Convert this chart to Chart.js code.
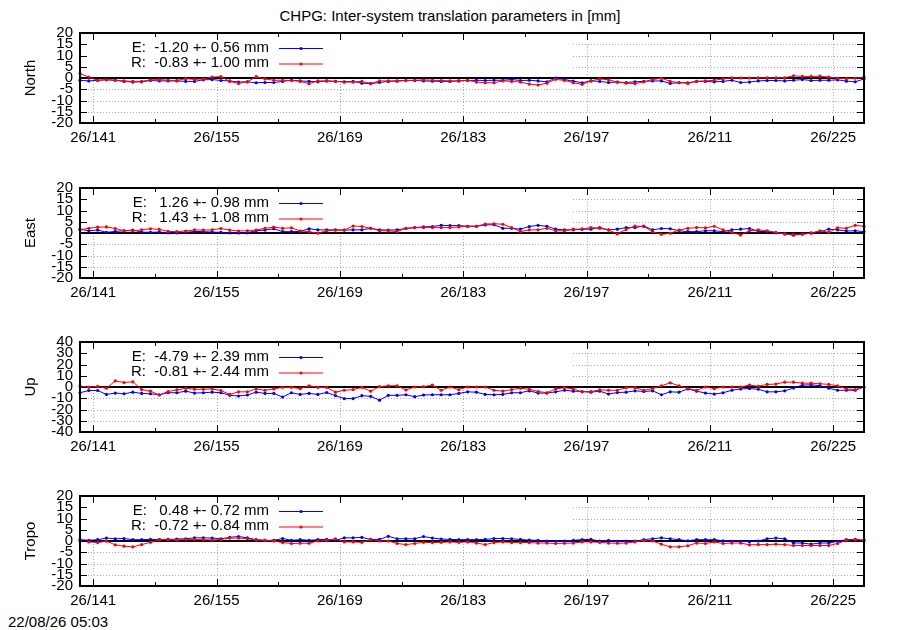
<!DOCTYPE html>
<html>
<head>
<meta charset="utf-8">
<title>CHPG inter-system translation parameters</title>
<script src="https://cdn.jsdelivr.net/npm/chart.js@4.4.1/dist/chart.umd.min.js"></script>
<style>
    body { margin: 0; background: #fff; width: 900px; height: 630px; position: relative; overflow: hidden;
           font-family: 'Liberation Sans', Arial, sans-serif; color: #000; }
    #title { position: absolute; top: 8px; left: 0; width: 900px; text-align: center; font-size: 15px; line-height: 15px; }
    #stamp { position: absolute; left: 8px; top: 614px; font-size: 15px; line-height: 15px; }
    .panel { position: absolute; left: 0; width: 900px; height: 132px; }
</style>
</head>
<body>
<div id="title">CHPG: Inter-system translation parameters in [mm]</div>
<canvas class="panel" id="p0" width="900" height="132" style="top:17px"></canvas>
<canvas class="panel" id="p1" width="900" height="132" style="top:172px"></canvas>
<canvas class="panel" id="p2" width="900" height="132" style="top:326px"></canvas>
<canvas class="panel" id="p3" width="900" height="132" style="top:480px"></canvas>
<div id="stamp">22/08/26 05:03</div>

<script>
// Data (day of year 2026, daily solutions at 12:00)
const days = [139,140,141,142,143,144,145,146,147,148,149,150,151,152,153,154,155,156,157,158,
    159,160,161,162,163,164,165,166,167,168,169,170,171,172,173,174,175,176,177,178,
    179,180,181,182,183,184,185,186,187,188,189,190,191,192,193,194,195,196,197,198,
    199,200,201,202,203,204,205,206,207,208,209,210,211,212,213,214,215,216,217,218,
    219,220,221,222,223,224,225,226,227,228];

const xTickDays = [141,148,155,162,169,176,183,190,197,204,211,218,225];
const xLabelDays = [141,155,169,183,197,211,225];

const panelNames = ['North', 'East', 'Up', 'Tropo'];
const yLimits = [20, 20, 40, 20];
const ySteps = [5, 5, 10, 5];

const meanE = [-1.20, 1.26, -4.79, 0.48];
const sigE  = [0.56, 0.98, 2.39, 0.72];
const meanR = [-0.83, 1.43, -0.81, -0.72];
const sigR  = [1.00, 1.08, 2.44, 0.84];

const northE = [-1.0,-1.3,-1.0,-0.8,-1.0,-1.5,-1.8,-1.7,-1.1,-1.3,
    -1.3,-1.3,-1.5,-1.5,-0.8,-0.7,-1.1,-1.3,-1.8,-1.7,
    -2.1,-2.0,-2.0,-1.5,-1.0,-1.3,-1.5,-1.7,-1.3,-1.5,
    -1.7,-1.5,-2.3,-2.5,-2.0,-1.5,-1.3,-1.1,-1.1,-1.3,
    -1.4,-1.5,-1.5,-1.3,-1.1,-1.0,-1.1,-1.0,-1.0,-0.7,
    -1.1,-1.0,-1.3,-1.7,0.0,-0.7,-1.4,-2.1,-1.3,-1.5,
    -2.0,-1.8,-2.0,-1.7,-1.5,-1.3,-1.3,-2.4,-2.1,-2.1,
    -1.5,-1.5,-1.7,-1.5,-1.0,-2.0,-1.8,-1.3,-1.1,-1.1,
    -1.3,-1.0,-0.7,-1.1,-1.0,-1.0,-0.8,-1.4,-1.7,-0.4];
const northR = [2.0,0.4,-1.1,-0.7,-1.0,-1.3,-1.5,-1.5,-0.8,-0.7,
    -1.0,-1.1,-0.3,-0.6,-0.4,0.4,0.6,-1.5,-2.4,-1.7,
    0.6,-0.4,-1.0,-1.0,-1.1,-1.5,-2.5,-1.3,-1.3,-1.5,
    -1.8,-1.8,-1.5,-2.4,-1.3,-1.3,-1.4,-1.1,-1.0,-0.8,
    -1.0,-1.1,-1.3,-1.3,-1.0,-1.8,-2.1,-2.1,-1.3,-1.5,
    -1.8,-2.7,-3.1,-2.3,-0.6,-1.1,-2.1,-2.8,-1.3,-0.4,
    -0.8,-1.8,-2.3,-2.5,-1.7,-0.7,-0.1,-1.5,-2.0,-2.4,
    -1.5,-1.3,-1.0,-0.4,0.1,0.0,0.0,0.1,0.1,0.1,
    0.1,1.0,0.7,0.7,0.8,0.4,-0.1,-0.3,-0.1,0.4];

const eastE = [1.7,1.0,1.3,0.3,0.7,1.0,1.3,0.4,0.3,0.4,
    0.1,0.1,0.3,0.7,0.6,0.4,0.3,0.1,0.0,0.1,
    1.0,1.3,1.9,0.6,0.6,0.7,1.9,1.4,1.4,1.4,
    1.3,1.4,1.4,2.1,1.4,1.3,1.4,2.0,2.4,2.7,
    2.9,3.4,3.3,3.3,3.0,3.0,3.6,3.7,2.1,2.1,
    1.7,2.9,3.4,3.0,1.7,1.4,1.4,1.7,1.7,2.4,
    1.4,1.7,2.4,2.4,3.1,1.4,2.0,1.9,1.0,0.6,
    0.6,1.0,1.0,0.6,1.4,1.7,2.0,0.7,0.6,0.1,
    -0.4,-1.0,-0.4,0.1,0.6,1.7,1.4,0.9,1.0,0.6];
const eastR = [1.4,2.1,2.6,2.7,2.0,1.0,1.0,1.4,1.9,1.6,
    0.7,0.6,0.9,1.4,1.3,1.4,2.0,1.3,0.9,1.0,
    1.3,2.1,2.6,2.1,2.3,0.9,0.6,-0.1,1.0,1.3,
    1.3,3.1,2.9,2.1,1.0,1.0,0.6,2.1,2.4,2.4,
    2.4,2.4,2.4,2.7,3.0,3.0,4.0,4.1,3.9,2.4,
    0.6,1.4,1.4,2.1,1.0,1.0,1.7,1.7,2.4,2.1,
    1.3,-0.4,1.6,3.1,2.9,0.6,-0.6,-0.1,1.3,2.1,
    2.4,2.3,3.0,1.4,0.3,-0.9,1.0,1.4,1.0,0.3,
    -0.4,-0.7,-0.6,-0.1,1.0,0.3,2.3,2.1,3.4,3.0];

const upE = [-5.1,-3.1,-3.1,-6.6,-5.4,-6.0,-4.6,-5.7,-6.0,-6.9,
    -5.1,-5.1,-3.7,-5.4,-5.1,-4.6,-5.1,-7.4,-8.0,-7.1,
    -4.6,-5.7,-5.7,-8.9,-5.1,-6.6,-5.7,-6.6,-4.9,-7.7,
    -10.3,-10.3,-7.7,-8.3,-11.7,-7.4,-7.4,-6.9,-8.6,-7.1,
    -6.9,-6.9,-6.9,-5.7,-4.3,-4.6,-6.6,-6.9,-6.6,-5.1,
    -5.1,-3.4,-5.4,-5.4,-4.3,-2.9,-3.7,-4.0,-4.6,-3.7,
    -6.3,-4.9,-4.6,-3.4,-4.0,-3.4,-6.9,-4.3,-4.6,-1.7,
    -3.7,-5.4,-6.3,-5.1,-2.9,-1.7,-1.4,-2.0,-4.3,-4.3,
    -3.4,-0.9,1.7,2.0,1.1,-1.1,-2.9,-2.9,-2.9,0.0];
const upR = [0.9,-0.3,0.6,-1.1,5.4,4.0,4.6,-2.3,-3.7,-7.1,
    -4.0,-2.6,-1.1,-2.0,-2.0,-1.7,-3.1,-6.6,-4.3,-4.3,
    -1.7,-2.9,-1.7,-0.3,-0.3,-1.4,1.1,-0.3,-0.3,-4.6,
    -2.9,-2.3,-0.3,-3.7,0.3,1.1,1.1,-2.6,0.0,0.3,
    1.7,-2.9,0.0,-2.3,0.0,0.0,0.0,-2.9,-3.7,-2.3,
    -1.1,-2.0,-4.0,-5.1,-1.7,-0.6,-1.7,-4.3,-4.0,-2.6,
    -2.9,-2.9,-0.6,-0.6,-2.9,-1.4,1.1,3.7,1.1,-1.4,
    -2.9,0.0,-1.4,0.0,0.0,0.0,1.7,0.6,2.3,2.6,
    4.3,4.3,3.4,3.4,2.9,2.3,1.1,-1.7,-2.3,0.0];

const tropoE = [0.6,0.3,0.6,1.3,1.0,1.1,0.6,0.6,0.7,0.7,
    0.7,0.9,1.0,1.4,1.4,1.3,1.0,1.6,2.0,1.4,
    0.6,0.3,0.3,1.1,0.3,0.6,0.3,0.6,0.7,0.3,
    1.4,1.4,1.6,0.7,0.7,2.1,1.0,1.0,1.0,2.0,
    1.3,0.9,0.7,0.6,0.6,0.6,0.7,1.1,1.1,1.0,
    0.7,0.4,0.3,0.0,-0.1,0.0,0.3,0.6,0.7,0.0,
    0.3,-0.1,0.0,0.0,0.6,1.0,1.4,1.0,0.6,0.1,
    0.6,0.6,0.6,0.1,-0.1,-0.1,-0.3,0.0,1.0,1.3,
    1.0,-0.9,-0.9,-1.4,-0.9,-0.9,-0.1,0.6,0.7,0.3];
const tropoR = [0.0,-0.4,-0.7,-0.1,-1.7,-2.3,-2.6,-1.6,-0.6,0.6,
    0.6,0.4,0.7,0.7,0.6,0.4,0.7,1.3,1.3,1.0,
    0.4,0.3,0.0,-0.7,-1.1,-1.0,-1.0,0.0,0.3,1.0,
    -0.4,-0.4,-0.6,0.6,0.0,0.0,-1.1,-1.6,-1.1,-0.6,
    -0.7,-0.6,-0.4,-0.6,-0.4,-0.9,-1.6,-0.7,-0.4,-0.7,
    -0.7,-0.7,-0.9,-0.9,-1.1,-1.0,-0.9,-0.4,-0.4,-0.6,
    -0.9,-1.0,-0.9,-0.4,0.3,0.0,-1.4,-2.6,-2.6,-2.1,
    -0.9,-1.1,-0.4,-1.1,-0.9,-0.9,-1.7,-1.6,-1.6,-1.4,
    -1.6,-2.0,-2.0,-2.0,-2.0,-2.0,-1.1,0.3,0.7,0.3];

const seriesE = [northE, eastE, upE, tropoE];
const seriesR = [northR, eastR, upR, tropoR];

// Styling
const FONT = "'Liberation Sans', Arial, sans-serif";
const BLUE = '#0000ff';
const RED = '#ff0000';
const KEY_RIGHT = 573;   // opaque key box hides the upper-left grid

// gnuplot-like frame: dotted grid, zero line, inner tick marks, border, key
const gnuFrame = {
    id: 'gnuFrame',
    beforeDatasetsDraw(chart, args, opts) {
        const { ctx, chartArea: a, scales: { x, y } } = chart;
        const lim = opts.lim, step = opts.step;
        ctx.save();
        ctx.strokeStyle = '#a8a8a8';
        ctx.lineWidth = 1;
        ctx.setLineDash([1, 2]);
        for (let v = -lim + step; v < lim; v += step) {
            if (v === 0) continue;
            const py = Math.round(y.getPixelForValue(v)) + 0.5;
            ctx.beginPath();
            ctx.moveTo(v > 0 ? KEY_RIGHT : a.left + 8, py);
            ctx.lineTo(a.right - 7, py);
            ctx.stroke();
        }
        xLabelDays.forEach(d => {
            const px = Math.round(x.getPixelForValue(d)) + 0.5;
            const yTop = px < KEY_RIGHT ? y.getPixelForValue(0) : y.getPixelForValue(lim - step);
            ctx.beginPath();
            ctx.moveTo(px, yTop);
            ctx.lineTo(px, y.getPixelForValue(-lim + step));
            ctx.stroke();
        });
        ctx.setLineDash([]);
        ctx.strokeStyle = '#000';
        ctx.lineWidth = 2;
        const y0 = y.getPixelForValue(0);
        ctx.beginPath();
        ctx.moveTo(a.left, y0);
        ctx.lineTo(a.right, y0);
        ctx.stroke();
        ctx.restore();
    },
    afterDatasetsDraw(chart, args, opts) {
        const { ctx, chartArea: a, scales: { x, y } } = chart;
        ctx.save();
        ctx.strokeStyle = '#000';
        ctx.lineWidth = 1;
        ctx.beginPath();
        for (let v = -opts.lim; v <= opts.lim; v += opts.step) {
            const py = Math.round(y.getPixelForValue(v)) + 0.5;
            ctx.moveTo(a.left, py); ctx.lineTo(a.left + 7, py);
            ctx.moveTo(a.right - 7, py); ctx.lineTo(a.right, py);
        }
        xTickDays.forEach(d => {
            const px = Math.round(x.getPixelForValue(d)) + 0.5;
            const len = xLabelDays.includes(d) ? 7 : 4;
            ctx.moveTo(px, a.top); ctx.lineTo(px, a.top + len);
            ctx.moveTo(px, a.bottom); ctx.lineTo(px, a.bottom - len);
        });
        ctx.stroke();
        ctx.lineWidth = 2;
        ctx.strokeRect(a.left, a.top, a.right - a.left, a.bottom - a.top);

        // key
        ctx.font = '15px ' + FONT;
        ctx.fillStyle = '#000';
        ctx.textAlign = 'right';
        ctx.textBaseline = 'middle';
        opts.keys.forEach((k, i) => {
            const ky = a.top + 15.5 + i * 15.5;
            ctx.fillText(k.text, 269, ky - 1);
            ctx.strokeStyle = k.color;
            ctx.fillStyle = k.color;
            ctx.lineWidth = 1;
            ctx.beginPath();
            ctx.moveTo(279, ky); ctx.lineTo(323, ky);
            ctx.stroke();
            ctx.beginPath();
            ctx.arc(301, ky, 1.6, 0, Math.PI * 2);
            ctx.fill();
            ctx.fillStyle = '#000';
        });
        ctx.restore();
    }
};

function keyText(name, mean, sig) {
    return `${name}: ${mean.toFixed(2).padStart(6)} +- ${sig.toFixed(2)} mm`;
}

function toPoints(vals) {
    return vals.map((v, i) => ({ x: days[i] + 0.5, y: v }));
}

function makePanel(p) {
    const lim = yLimits[p], step = ySteps[p];
    const line = (label, vals, color, order) => ({
        label, data: toPoints(vals), order,
        borderColor: color, backgroundColor: color,
        borderWidth: 1, pointRadius: 1.6, pointBorderWidth: 0,
        pointHoverRadius: 1.6, tension: 0, clip: 3
    });

    return new Chart(document.getElementById('p' + p), {
        type: 'line',
        data: {
            datasets: [
                line('R', seriesR[p], RED, 1),
                line('E', seriesE[p], BLUE, 2)
            ]
        },
        options: {
            responsive: false,
            animation: false,
            layout: { padding: { top: 12, right: 36, left: 0, bottom: 0 } },
            plugins: {
                legend: { display: false },
                tooltip: { enabled: false },
                gnuFrame: {
                    lim, step,
                    keys: [
                        { text: keyText('E', meanE[p], sigE[p]), color: BLUE },
                        { text: keyText('R', meanR[p], sigR[p]), color: RED }
                    ]
                }
            },
            scales: {
                x: {
                    type: 'linear',
                    min: days[0] + 0.5,
                    max: days[days.length - 1] + 0.5,
                    afterBuildTicks: s => { s.ticks = xTickDays.map(v => ({ value: v })); },
                    afterFit: s => { s.height = 26; },
                    grid: { display: false, drawTicks: false },
                    border: { display: false },
                    ticks: {
                        autoSkip: false, maxRotation: 0, padding: 6,
                        color: '#000', font: { family: FONT, size: 15 },
                        callback: v => xLabelDays.includes(v) ? '26/' + v : ''
                    }
                },
                y: {
                    min: -lim, max: lim,
                    afterFit: s => { s.width = 80; },
                    grid: { display: false, drawTicks: false },
                    border: { display: false },
                    ticks: {
                        stepSize: step, autoSkip: false, padding: 7,
                        color: '#000', font: { family: FONT, size: 15 }
                    },
                    title: {
                        display: true, text: panelNames[p], color: '#000',
                        font: { family: FONT, size: 15 }, padding: { top: 22, bottom: 0 }
                    }
                }
            }
        },
        plugins: [gnuFrame]
    });
}

panelNames.forEach((n, p) => makePanel(p));
</script>
</body>
</html>
